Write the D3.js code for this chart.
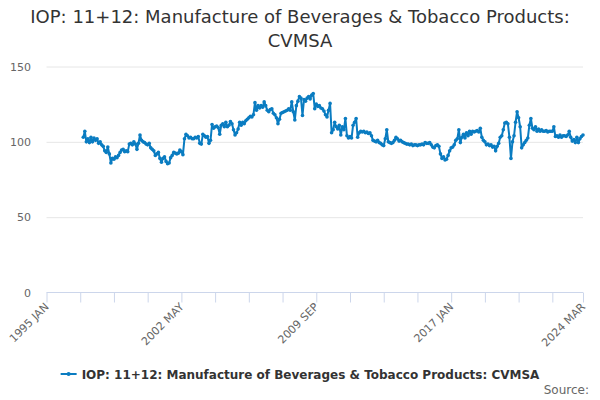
<!DOCTYPE html>
<html><head><meta charset="utf-8">
<script src="https://cdn.jsdelivr.net/npm/d3@7/dist/d3.min.js"></script>
<style>
html,body{margin:0;padding:0;background:#fff;}
svg{display:block;font-family:"DejaVu Sans",sans-serif;}
</style></head>
<body>
<svg id="chart" width="600" height="400"></svg>
<script>
const titleLines = ["IOP: 11+12: Manufacture of Beverages & Tobacco Products:", "CVMSA"];
const seriesName = "IOP: 11+12: Manufacture of Beverages & Tobacco Products: CVMSA";
const monthNames = ["JAN","FEB","MAR","APR","MAY","JUN","JUL","AUG","SEP","OCT","NOV","DEC"];
const firstYear = 1995, lastYear = 2024, lastMonthCount = 3;
const seriesStartCategory = "1997 JAN";
const yTicks = [0, 50, 100, 150];
const xTickLabels = ["1995 JAN", "2002 MAY", "2009 SEP", "2017 JAN", "2024 MAR"];
const sourceText = "Source:";

// Monthly values from 1997 JAN to 2024 MAR
const values = [
 103,107,100,102,99.5,103,100,102.5,101,102,99,100,
 98,97,94,93,96.5,92,86,89,88.5,90,89.5,91,
 93,94.5,95,93.5,94,93.5,98.5,99,98,100,98.5,95,
 99,104.5,101,100,99.5,98.5,98,99,96,95,94,91,
 92,93,89,86.5,89,90,87,85.5,86,89.5,91,93,
 92.5,92,92.5,94.5,93.5,91.5,102,105,104,102.5,103,102,
 102,103,102.5,103.5,99,98.5,105,104,103,103.5,99,101,
 111.5,109,110,110.5,109.5,105,111,112,110,113,110,111,
 113.5,112,108,104.5,106,108.5,113,111,113,112,114,115,
 116,117,116.5,118,126,121,124,122.5,124,123,126.5,124,
 121,120,121.5,122,119,118,116,112,115,119,119.5,120,
 120.5,121,122,121,126.5,120,114.5,124,127,130,129,117.5,
 128,127,129,130,128.5,131,132,122,125,123.5,124,122.5,
 122,120.5,118,116.5,121,125.5,106,108,113,110,108.5,111,
 104.5,110,108,115.5,104,102.5,103.5,102.5,111,113,115.5,103,
 106,107,106.5,107,106,106.5,105.5,106,104,101,100.5,100,
 101,99.5,99,98,97.5,102,108,100,99.5,99,99.5,101,
 103,102,100.5,101,100,99.5,99,98.5,98.5,98,98.5,97.5,
 98,98,97.5,98,98,98.5,98,99.5,99,99,99.5,98,
 96.5,96,97.5,98,97,92,89,90,88,88.5,91,94,
 96,96.5,98,101,102,108,99.5,103,105,102.5,106,104,
 107,105,107,106.5,107,107.5,106.5,109,103,101,100,98,
 98.5,97.5,98,96.5,97,94,97,99,103,104,108,112.5,
 113,112,103,89,100,104,113,120,116,110,96,98,
 99.5,101,102.5,111,115.5,109,108,110,107,108.5,107,108,
 107,107,107.5,106.5,107,107,107,110,103.5,104,103,104.5,
 103,104,104,103.5,104.5,107,103,100.5,101.5,99.5,103,99.5,
 102,103.5,104.5
];

const categories = [];
for (let y = firstYear; y <= lastYear; y++) {
  const n = y === lastYear ? lastMonthCount : 12;
  for (let m = 0; m < n; m++) categories.push(y + " " + monthNames[m]);
}
const startIdx = categories.indexOf(seriesStartCategory);
const data = values.map((v, i) => ({cat: categories[startIdx + i], v}));

const svg = d3.select("#chart");
const color = "#0a7cc1";
const W = 600, H = 400;
const plot = {left: 46.5, right: 583, top: 66.5, bottom: 292.5};

const x = d3.scalePoint().domain(categories).range([plot.left, plot.right]);
const y = d3.scaleLinear().domain([0, 150]).range([plot.bottom, plot.top]);

// title
const title = svg.append("text").attr("x", W/2).attr("text-anchor", "middle")
  .attr("fill", "#333").style("font-size", "18px");
titleLines.forEach((t, i) => title.append("tspan").attr("x", W/2).attr("y", 23 + i*24).text(t));

// grid + y labels
const yAxis = d3.axisLeft(y).tickValues(yTicks).tickSize(-(plot.right - plot.left)).tickPadding(15.5);
const gy = svg.append("g").attr("transform", `translate(${plot.left},0)`).call(yAxis);
gy.select(".domain").remove();
gy.selectAll(".tick line").attr("stroke", "#e6e6e6");
gy.selectAll(".tick").filter(d => d === 0).select("line").remove();
gy.selectAll(".tick text").attr("fill", "#666").style("font-size", "11px")
  .style("font-family", "DejaVu Sans, sans-serif");

// x axis
const tickCats = categories.filter((c, i) => i % 22 === 0);
if (tickCats[tickCats.length-1] !== categories[categories.length-1]) tickCats.push(categories[categories.length-1]);
const xAxis = d3.axisBottom(x).tickValues(tickCats).tickSize(10).tickFormat("");
const gx = svg.append("g").attr("transform", `translate(0,${plot.bottom})`).call(xAxis);
gx.select(".domain").attr("stroke", "#ccd6eb").attr("d", `M${plot.left},0H${plot.right}`);
gx.selectAll(".tick line").attr("stroke", "#ccd6eb");

svg.append("g").selectAll("text").data(xTickLabels).join("text")
  .attr("transform", d => `translate(${x(d) + 3},${plot.bottom + 15}) rotate(-45)`)
  .attr("text-anchor", "end").attr("fill", "#666").style("font-size", "11px")
  .text(d => d);

// line
const line = d3.line().x(d => x(d.cat)).y(d => y(d.v));
svg.append("path").datum(data).attr("d", line).attr("fill", "none")
  .attr("stroke", color).attr("stroke-width", 2).attr("stroke-linejoin", "round");
svg.append("g").selectAll("circle").data(data).join("circle")
  .attr("cx", d => x(d.cat)).attr("cy", d => y(d.v)).attr("r", 1.8).attr("fill", color);

// legend
const lg = svg.append("g").attr("transform", "translate(0,374)");
const lt = lg.append("text").attr("x", 76).attr("y", 4.5).attr("fill", "#333")
  .style("font-size", "12px").style("font-weight", "bold").text(seriesName);
const tw = lt.node().getComputedTextLength();
const total = 16 + 5 + tw;
const lx = (W - total)/2;
lt.attr("x", lx + 21);
lg.append("line").attr("x1", lx).attr("x2", lx + 16).attr("y1", 0).attr("y2", 0)
  .attr("stroke", color).attr("stroke-width", 2);
lg.append("circle").attr("cx", lx + 8).attr("cy", 0).attr("r", 2).attr("fill", color);

svg.append("text").attr("x", 589).attr("y", 394).attr("text-anchor", "end")
  .attr("fill", "#666").style("font-size", "12px").text(sourceText);
</script>
</body></html>
